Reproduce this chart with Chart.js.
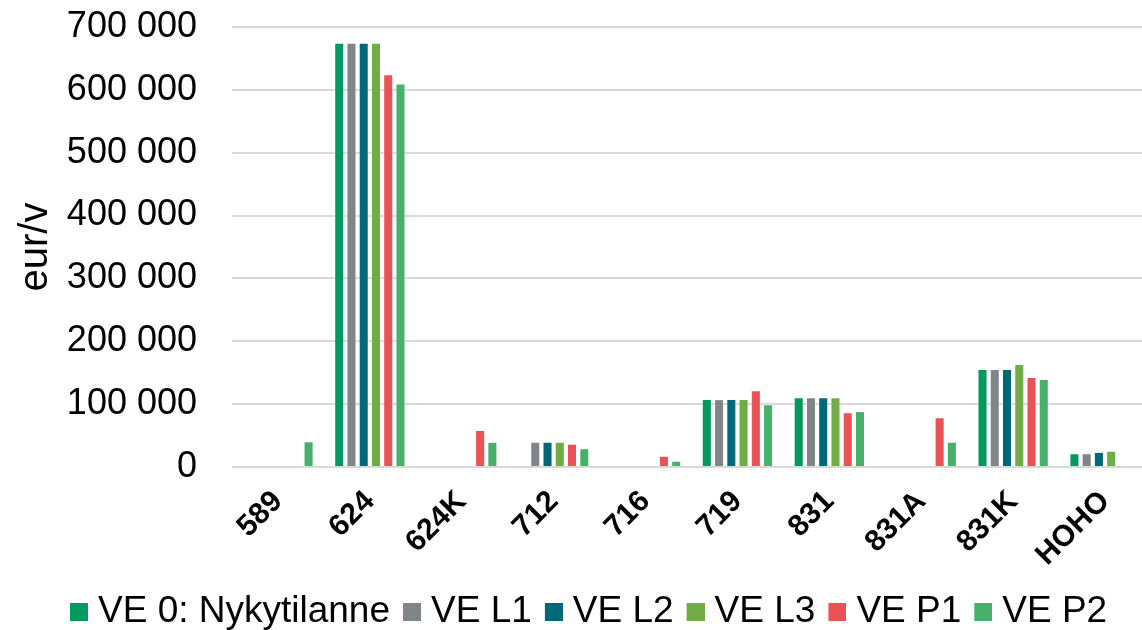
<!DOCTYPE html>
<html>
<head>
<meta charset="utf-8">
<script src="https://cdn.jsdelivr.net/npm/chart.js@4"></script>
<style>
  html, body { margin: 0; padding: 0; background: #fff; overflow: hidden; }
  #wrap { position: absolute; left: -50px; top: 0; width: 1210px; height: 630px; }
</style>
</head>
<body>
<div id="wrap"><canvas id="grafico"></canvas></div>
<script>
const kategoriat = ["589", "624", "624K", "712", "716", "719", "831", "831A", "831K", "HOHO"];
const ve0 = [0, 675000, 0, 0, 0, 108000, 111000, 0, 156000, 22000];
const veL1 = [0, 675000, 0, 40000, 0, 108000, 111000, 0, 156000, 22000];
const veL2 = [0, 675000, 0, 40000, 0, 108000, 111000, 0, 156000, 24000];
const veL3 = [0, 675000, 0, 40000, 0, 108000, 111000, 0, 164000, 26000];
const veP1 = [0, 625000, 59000, 37000, 18000, 122000, 87000, 79000, 143000, 0];
const veP2 = [41000, 610000, 40000, 30000, 10000, 100000, 89000, 40000, 140000, 0];
const sarjaNimet = ["VE 0: Nykytilanne", "VE L1", "VE L2", "VE L3", "VE P1", "VE P2"];
const yTicks = [0, 100000, 200000, 300000, 400000, 500000, 600000, 700000];

const varit = ["#00995e", "#808587", "#006978", "#70ad47", "#eb5256", "#47b06b"];
const sarjat = [ve0, veL1, veL2, veL3, veP1, veP2];
const fontti = "Liberation Sans, Arial";

// thousands with a space, like "700 000"
function muotoile(v) {
  return String(v).replace(/\B(?=(\d{3})+(?!\d))/g, " ");
}

// legend swatch: 18px square on the right half of a 36px wide image
function laatikko(vari) {
  const c = document.createElement("canvas");
  c.width = 36;
  c.height = 18;
  const g = c.getContext("2d");
  g.fillStyle = vari;
  g.fillRect(18, 0, 18, 18);
  return c;
}
const laatikot = varit.map(laatikko);

// move the legend where it sits in the original
const legendSiirto = {
  id: "legendSiirto",
  afterLayout(chart) {
    const lg = chart.legend;
    if (!lg || !lg.lineWidths) return;
    const pad = lg.options.labels.padding;
    const half = lg.options.labels.font.size / 2;
    const cx = (lg.left + pad + lg.right - lg.lineWidths[0]) / 2;
    const dx = 120 - (cx + 9.5);
    const dy = 612 - half - pad - lg.top;
    lg.left += dx;
    lg.right += dx;
    lg.top += dy;
    lg.bottom += dy;
  },
};

window.onload = function () {
  const ctx = document.getElementById("grafico").getContext("2d");
  new Chart(ctx, {
    type: "bar",
    data: {
      labels: kategoriat,
      datasets: sarjat.map((d, i) => ({
        label: sarjaNimet[i],
        data: d,
        backgroundColor: varit[i],
        borderColor: "rgba(255,255,255,0.45)",
        borderWidth: 1,
        barPercentage: 0.82,
        categoryPercentage: 0.8,
      })),
    },
    plugins: [legendSiirto],
    options: {
      responsive: true,
      maintainAspectRatio: false,
      animation: false,
      layout: { padding: { top: 27, right: 9, bottom: 0, left: 0 } },
      plugins: {
        legend: {
          position: "bottom",
          labels: {
            color: "#000",
            font: { family: fontti, size: 37 },
            usePointStyle: true,
            pointStyleWidth: 19,
            boxHeight: 18,
            padding: 3.5,
            generateLabels: (chart) => {
              const items = Chart.defaults.plugins.legend.labels.generateLabels(chart);
              items.forEach((it, i) => { it.pointStyle = laatikot[i]; });
              return items;
            },
          },
        },
        tooltip: { enabled: false },
      },
      scales: {
        x: {
          grid: { display: false },
          border: { display: false },
          ticks: {
            color: "#000",
            font: { family: fontti, size: 30, weight: "bold" },
            minRotation: 45,
            maxRotation: 45,
            padding: 9,
          },
          afterFit: (s) => {
            const lh = s.chart.legend ? s.chart.legend.height : 50;
            s.height = 630 - 467 - lh;
          },
        },
        y: {
          min: 0,
          max: 700000,
          afterBuildTicks: (s) => { s.ticks = yTicks.map((v) => ({ value: v })); },
          grid: { color: "#d9d9d9", lineWidth: 2, drawTicks: false },
          border: { display: false },
          ticks: {
            color: "#000",
            font: { family: fontti, size: 36 },
            padding: 35,
            callback: (v) => muotoile(v),
          },
          title: {
            display: true,
            text: ["Säästö: matka-aikakustannus,", "eur/v"],
            color: "#000",
            font: { family: fontti, size: 40, lineHeight: 1.3 },
            padding: { top: 8, bottom: 0 },
          },
          afterFit: (s) => {
            s.width = 282;
            s.paddingTop = 0;
            s.paddingBottom = 0;
          },
        },
      },
    },
  });
};
</script>
</body>
</html>
